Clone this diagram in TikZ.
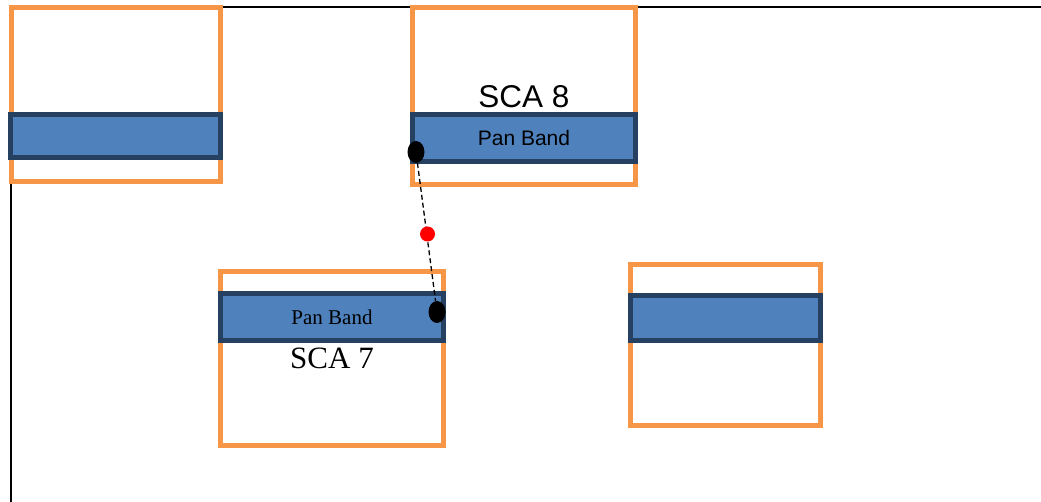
\documentclass[tikz,border=0pt]{standalone}
\usepackage{fontspec}
\setmainfont{Liberation Serif}
\newfontfamily\arialfont{Liberation Sans}
\usetikzlibrary{positioning,shapes.geometric}
\definecolor{scaorange}{HTML}{F79646}
\definecolor{bandblue}{HTML}{4F81BD}
\definecolor{banddark}{HTML}{254061}

\begin{document}
\begin{tikzpicture}[
    x=1pt,y=-1pt,
    sca/.style={rectangle,draw=scaorange,line width=5pt,fill=white,inner sep=0pt},
    band/.style={rectangle,draw=banddark,line width=5pt,fill=bandblue,inner sep=0pt},
    dot/.style={ellipse,fill=black,inner sep=0pt,minimum width=17pt,minimum height=22pt},
    mark point/.style={circle,fill=red,inner sep=0pt,minimum size=15pt},
    frame/.style={line width=2pt}
]
    \useasboundingbox (0,0) rectangle (1041,502);
    \draw[frame] (1041,7) -- (10.5,7) -- (10.5,502);

    % the four SCAs
    \node[sca,minimum width=209pt,minimum height=174pt] (scaA) at (115.5,94.5) {};
    \node[band,minimum width=210pt,minimum height=43pt] (bandA) at (115.5,136) {};

    \node[sca,minimum width=223pt,minimum height=177pt] (sca8) at (524,96) {};
    \node[band,minimum width=223pt,minimum height=47pt,font=\arialfont\fontsize{21}{24}\selectfont] (band8) at (524,138) {Pan Band};
    \node[above=4pt of band8,inner sep=0pt,font=\arialfont\fontsize{31.5}{36}\selectfont] (lab8) {SCA 8};

    \node[sca,minimum width=223pt,minimum height=174pt] (sca7) at (332,358.5) {};
    \node[band,minimum width=223pt,minimum height=47pt,font=\fontsize{21}{24}\selectfont] (band7) at (332,317) {Pan Band};
    \node[below=5pt of band7,inner sep=0pt,font=\fontsize{31}{36}\selectfont] (lab7) {SCA 7};

    \node[sca,minimum width=190pt,minimum height=160.5pt] (scaB) at (725.5,345) {};
    \node[band,minimum width=190pt,minimum height=45pt] (bandB) at (725.5,318) {};

    % corner points
    \node[dot] (p8) at (416,152) {};
    \node[dot] (p7) at (437,312) {};
    \draw[dashed,line width=1.3pt,dash pattern=on 5pt off 3pt] (p8) -- (p7);
    \node[mark point] (mid) at (427.5,234) {};
\end{tikzpicture}
\end{document}
